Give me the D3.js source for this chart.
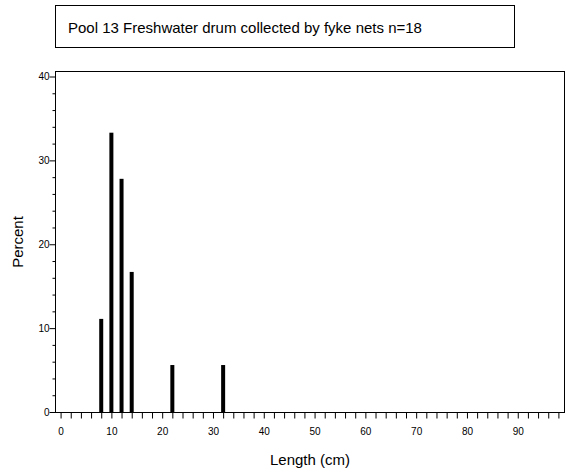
<!DOCTYPE html><html><head><script src="https://d3js.org/d3.v7.min.js"></script>
<style>body{margin:0;background:#fff}text{font-family:Arial,"Liberation Sans",sans-serif}</style></head><body>
<svg id="c" width="570" height="475"></svg>
<script>
const lengths=[8,10,12,14,22,32];
const percents=[11.1,33.3,27.8,16.7,5.6,5.6];
const xTicks=[0,10,20,30,40,50,60,70,80,90];
const yTicks=[0,10,20,30,40];
const title="Pool 13 Freshwater drum collected by fyke nets   n=18";
const svg=d3.select("#c");
const L=55,R=565,T=71,B=412;
const x=d3.scaleLinear().domain([-1.1,99.3]).range([L,R]);
const y=d3.scaleLinear().domain([0,40]).range([B,76.5]);
svg.append("rect").attr("x",55.5).attr("y",5.5).attr("width",459).attr("height",42).attr("fill","none").attr("stroke","#000");
svg.append("text").attr("x",68).attr("y",33).attr("font-size",15).text(title);
svg.append("rect").attr("x",L+.5).attr("y",T+.5).attr("width",R-L-1).attr("height",B-T).attr("fill","none").attr("stroke","#000");
svg.selectAll(".bar").data(lengths).join("rect").attr("x",d=>x(d)-2).attr("width",4)
 .attr("y",(d,i)=>y(percents[i])).attr("height",(d,i)=>B-y(percents[i])).attr("fill","#000");
const xa=svg.append("g").attr("transform",`translate(0,${B+.5})`).call(d3.axisBottom(x).tickValues(d3.range(0,99,2)).tickSize(6).tickFormat(d=>xTicks.includes(d)?d:""));
const ya=svg.append("g").attr("transform",`translate(${L+.5},0)`).call(d3.axisLeft(y).tickValues(d3.range(0,41,2)).tickSize(3).tickFormat(d=>yTicks.includes(d)?d:""));
ya.selectAll(".tick").filter(d=>yTicks.includes(d)).select("line").attr("x2",-6);
[xa,ya].forEach(a=>{a.select(".domain").remove();a.selectAll("text").attr("font-size",10).attr("fill","#000");});
xa.selectAll("text").attr("dy","1.3em");
svg.append("text").attr("x",310).attr("y",465).attr("text-anchor","middle").attr("font-size",15).text("Length (cm)");
svg.append("text").attr("transform","translate(23,242) rotate(-90)").attr("text-anchor","middle").attr("font-size",15).text("Percent");
</script></body></html>
